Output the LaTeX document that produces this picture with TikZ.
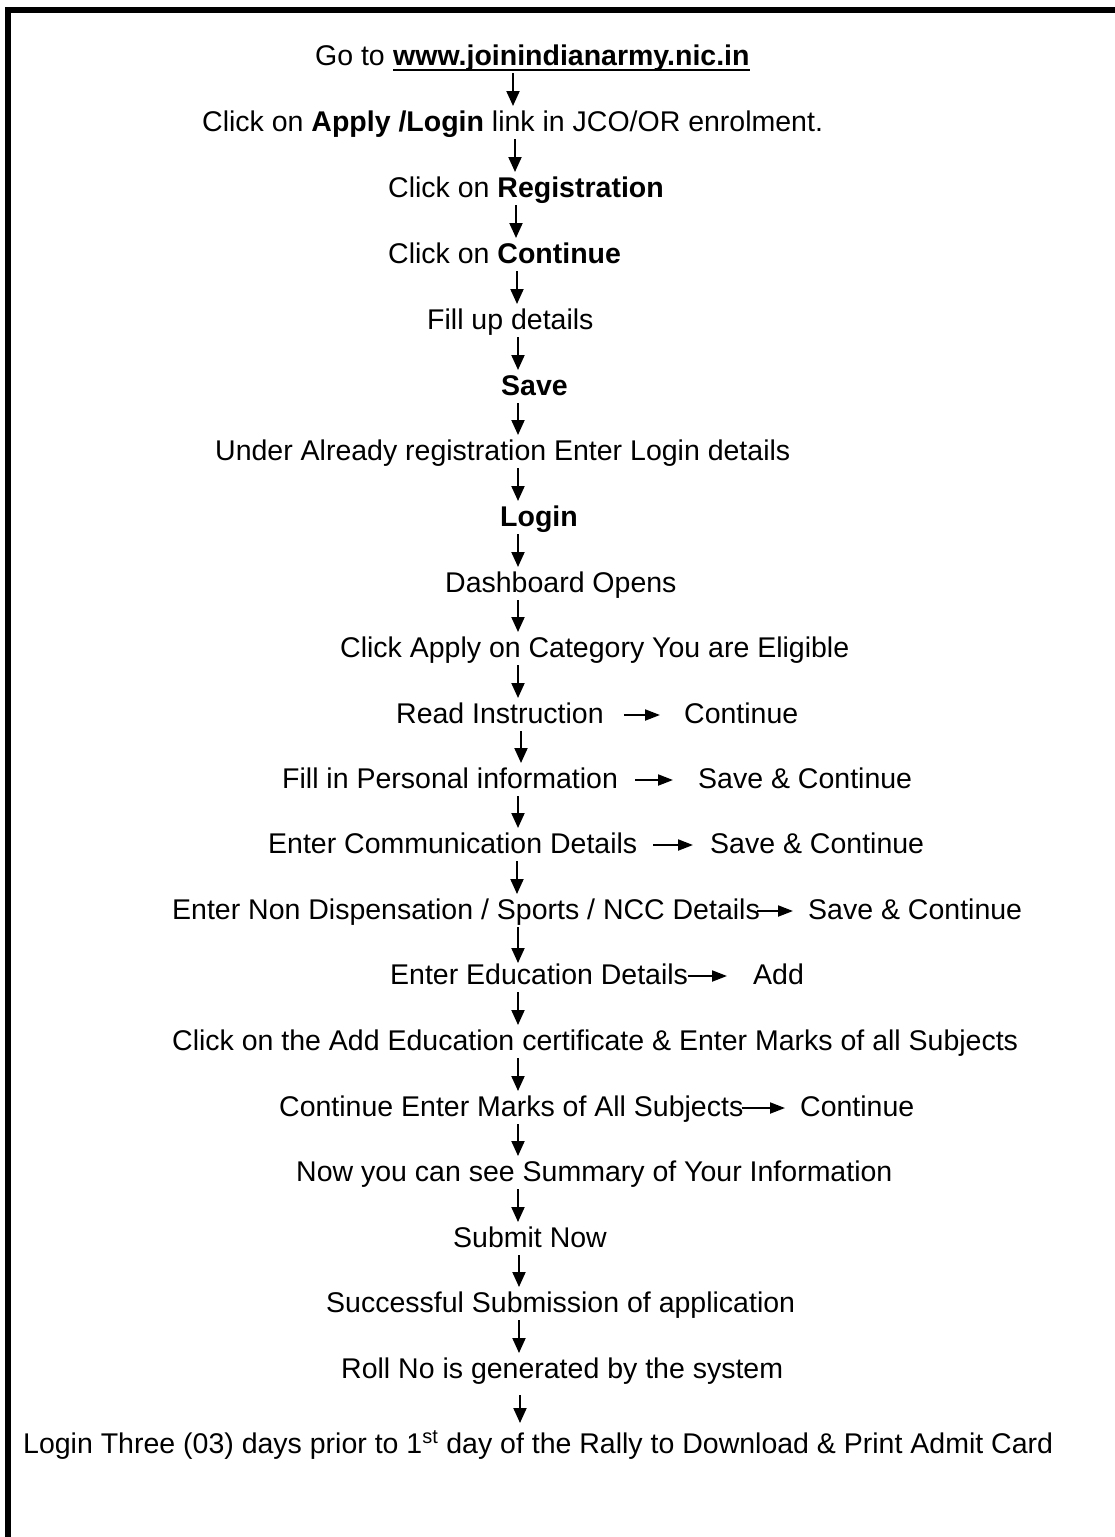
\documentclass[tikz,border=0pt]{standalone}
\usepackage{fontspec}
\setmainfont{Liberation Sans}
\usetikzlibrary{arrows.meta,calc}
\newcommand\mydown[4]{% from node, to node, x, tip offset
  \coordinate (vx) at (#3,0);
  \draw[varr] ($(#1.base -| vx)+(0,8)$) -- ($(#2.base -| vx)+(0,#4)$);}
\newcommand\myright[4]{% left node, right node, start gap, end gap
  \draw[harr] ($(#1.base east)+(#3,-8)$) -- ($(#2.base west)+(-#4,-8)$);}
\begin{document}
\begin{tikzpicture}[x=1pt,y=-1pt,
  txt/.style={inner sep=0pt, anchor=base west, font=\fontsize{28.5}{32}\selectfont},
  varr/.style={line width=2pt, -{Triangle[length=15pt,width=13pt]}},
  harr/.style={line width=2pt, -{Triangle[length=15pt,width=11pt]}},
  frame/.style={line width=6pt, miter limit=10}]
\useasboundingbox (0,0) rectangle (1115,1537);
\draw[frame] (8,1540) -- (8,10) -- (1118,10);

\node[txt] (l1) at (393,65) {\textbf{www.joinindianarmy.nic.in}};
\node[txt, anchor=base east] (l1a) at (385,65) {Go to};
\draw[line width=2.5pt] ($(l1.base west)+(0,5)$) -- ($(l1.base east)+(0,5)$);
\node[txt] (l2) at (202,131) {Click on \textbf{Apply /Login} link in JCO/OR enrolment.};
\node[txt] (l3) at (388,197) {Click on \textbf{Registration}};
\node[txt] (l4) at (388,263) {Click on \textbf{Continue}};
\node[txt] (l5) at (427,329) {Fill up details};
\node[txt] (l6) at (501,395) {\textbf{Save}};
\node[txt] (l7) at (215,460) {Under Already registration Enter Login details};
\node[txt] (l8) at (500,526) {\textbf{Login}};
\node[txt] (l9) at (445,592) {Dashboard Opens};
\node[txt] (l10) at (340,657) {Click Apply on Category You are Eligible};
\node[txt] (l11) at (396,723) {Read Instruction};
\node[txt] (l11b) at (684,723) {Continue};
\node[txt] (l12) at (282,788) {Fill in Personal information};
\node[txt] (l12b) at (698,788) {Save \& Continue};
\node[txt] (l13) at (268,853) {Enter Communication Details};
\node[txt] (l13b) at (710,853) {Save \& Continue};
\node[txt] (l14) at (172,919) {Enter Non Dispensation / Sports / NCC Details};
\node[txt] (l14b) at (808,919) {Save \& Continue};
\node[txt] (l15) at (390,984) {Enter Education Details};
\node[txt] (l15b) at (753,984) {Add};
\node[txt] (l16) at (172,1050) {Click on the Add Education certificate \& Enter Marks of all Subjects};
\node[txt] (l17) at (279,1116) {Continue Enter Marks of All Subjects};
\node[txt] (l17b) at (800,1116) {Continue};
\node[txt] (l18) at (296,1181) {Now you can see Summary of Your Information};
\node[txt] (l19) at (453,1247) {Submit Now};
\node[txt] (l20) at (326,1312) {Successful Submission of application};
\node[txt] (l21) at (341,1378) {Roll No is generated by the system};
\node[txt] (l22) at (23,1453) {Login Three (03) days prior to 1\textsuperscript{st} day of the Rally to Download \& Print Admit Card};

\myright{l11}{l11b}{20}{24}
\myright{l12}{l12b}{17}{25}
\myright{l13}{l13b}{16}{17}
\myright{l14}{l14b}{-3}{15}
\myright{l15}{l15b}{0}{26}
\myright{l17}{l17b}{-2}{15}

\mydown{l1}{l2}{513}{-25}
\mydown{l2}{l3}{515}{-25}
\mydown{l3}{l4}{516}{-25}
\mydown{l4}{l5}{517}{-25}
\mydown{l5}{l6}{518}{-25}
\mydown{l6}{l7}{518}{-25}
\mydown{l7}{l8}{518}{-25}
\mydown{l8}{l9}{518}{-25}
\mydown{l9}{l10}{518}{-25}
\mydown{l10}{l11}{518}{-25}
\mydown{l11}{l12}{521}{-25}
\mydown{l12}{l13}{518}{-25}
\mydown{l13}{l14}{517}{-25}
\mydown{l14}{l15}{518}{-21}
\mydown{l15}{l16}{518}{-25}
\mydown{l16}{l17}{518}{-25}
\mydown{l17}{l18}{518}{-25}
\mydown{l18}{l19}{518}{-25}
\mydown{l19}{l20}{519}{-25}
\mydown{l20}{l21}{519}{-25}
\coordinate (vx) at (520,0);
\draw[varr] ($(l21.base -| vx)+(0,17)$) -- ($(l22.base -| vx)+(0,-30)$);
\end{tikzpicture}
\end{document}
